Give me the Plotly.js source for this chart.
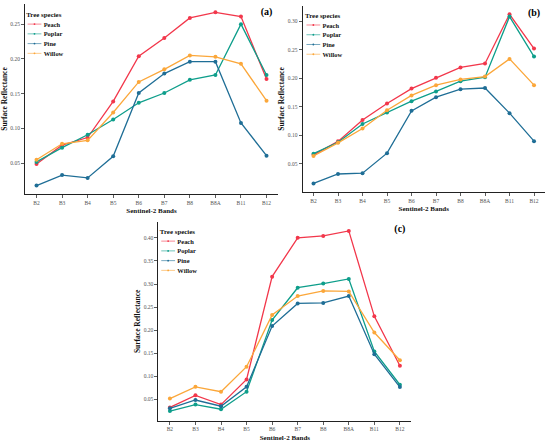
<!DOCTYPE html>
<html>
<head>
<meta charset="utf-8">
<script src="https://cdn.plot.ly/plotly-3.0.1.min.js"></script>
<style>
  html, body { margin: 0; padding: 0; background: #fff; }
  #chart { width: 550px; height: 442px; }
</style>
</head>
<body>
<div id="chart"></div>
<script>
// ---- data ----
var bands = ['B2', 'B3', 'B4', 'B5', 'B6', 'B7', 'B8', 'B8A', 'B11', 'B12'];
var species = ['Peach', 'Poplar', 'Pine', 'Willow'];
var panelLabels = ['(a)', '(b)', '(c)'];
var yTickVals = [0.05, 0.10, 0.15, 0.20, 0.25, 0.30, 0.35, 0.40];

// panel (a)
var peachA  = [0.049, 0.076, 0.087, 0.139, 0.204, 0.230, 0.259, 0.267, 0.261, 0.171];
var poplarA = [0.052, 0.0725, 0.091, 0.113, 0.137, 0.151, 0.170, 0.177, 0.250, 0.177];
var pineA   = [0.018, 0.033, 0.029, 0.060, 0.151, 0.179, 0.196, 0.196, 0.108, 0.061];
var willowA = [0.055, 0.078, 0.083, 0.123, 0.167, 0.185, 0.205, 0.203, 0.193, 0.140];

// panel (b)
var peachB  = [0.066, 0.0896, 0.127, 0.156, 0.182, 0.201, 0.219, 0.226, 0.312, 0.252];
var poplarB = [0.068, 0.088, 0.120, 0.140, 0.160, 0.177, 0.195, 0.202, 0.308, 0.238];
var pineB   = [0.016, 0.0325, 0.034, 0.069, 0.143, 0.167, 0.181, 0.183, 0.139, 0.090];
var willowB = [0.064, 0.087, 0.112, 0.144, 0.170, 0.188, 0.198, 0.203, 0.234, 0.188];

// panel (c)
var peachC  = [0.033, 0.059, 0.039, 0.0935, 0.316, 0.400, 0.404, 0.415, 0.230, 0.123];
var poplarC = [0.025, 0.039, 0.029, 0.067, 0.222, 0.292, 0.301, 0.311, 0.154, 0.082];
var pineC   = [0.031, 0.049, 0.0355, 0.0775, 0.209, 0.258, 0.259, 0.274, 0.148, 0.077];
var willowC = [0.052, 0.0775, 0.067, 0.121, 0.233, 0.274, 0.285, 0.284, 0.195, 0.135];

var panels = [
  [peachA, poplarA, pineA, willowA],
  [peachB, poplarB, pineB, willowB],
  [peachC, poplarC, pineC, willowC]
];

// ---- styling / placement ----
var colors = ['#F2374B', '#0E9E8B', '#1F6E96', '#FBA73A'];
var FONT = 'Liberation Serif, Times New Roman, serif';

var xDomains = [[0.0455, 0.5055], [0.550, 0.991], [0.288, 0.748]];
var yDomains = [[0.561, 0.991], [0.565, 0.987], [0.048, 0.498]];
var yRanges  = [[0.0058, 0.279], [0.0005, 0.327], [0.004, 0.4345]];
var legendPos = [[0.046, 0.982], [0.553, 0.980], [0.289, 0.491]];
// panel-letter placement (top-right corner of each panel, in axis units)
var labelAnchorX = 'B12';
var labelAnchorY = [0.2667, 0.3135, 0.418];

var data = [];
var layout = {
  width: 550, height: 442,
  margin: {l: 0, r: 0, t: 0, b: 0},
  paper_bgcolor: '#fff', plot_bgcolor: '#fff',
  font: {family: FONT, color: '#000'},
  showlegend: true,
  hovermode: false
};

for (var p = 0; p < 3; p++) {
  var sfx = p === 0 ? '' : String(p + 1);
  var legId = 'legend' + sfx;
  for (var s = 0; s < species.length; s++) {
    data.push({
      type: 'scatter', mode: 'lines+markers',
      x: bands, y: panels[p][s], name: species[s],
      xaxis: 'x' + sfx, yaxis: 'y' + sfx, legend: legId,
      line: {color: colors[s], width: 1.3},
      marker: {color: colors[s], size: 4}
    });
  }
  // panel letter
  data.push({
    type: 'scatter', mode: 'text',
    x: [labelAnchorX], y: [labelAnchorY[p]], text: [panelLabels[p]],
    textposition: 'middle center', cliponaxis: false,
    textfont: {family: FONT, size: 10, weight: 'bold', color: '#000'},
    xaxis: 'x' + sfx, yaxis: 'y' + sfx, showlegend: false, hoverinfo: 'skip'
  });
  layout['xaxis' + sfx] = {
    domain: xDomains[p], anchor: 'y' + sfx,
    type: 'category', range: [-0.45, 9.45],
    showline: true, linecolor: '#222', linewidth: 1,
    ticks: 'outside', ticklen: 3, tickwidth: 0.8, tickcolor: '#333',
    showgrid: false, zeroline: false,
    tickfont: {family: FONT, size: 5.5, color: '#555'},
    title: {text: 'Sentinel-2 Bands', font: {family: FONT, size: 7, weight: 'bold', color: '#111'}, standoff: 3}
  };
  layout['yaxis' + sfx] = {
    domain: yDomains[p], anchor: 'x' + sfx,
    range: yRanges[p],
    tickvals: yTickVals, tickformat: '.2f',
    showline: true, linecolor: '#222', linewidth: 1,
    ticks: 'outside', ticklen: 3, tickwidth: 0.8, tickcolor: '#333',
    showgrid: false, zeroline: false,
    tickfont: {family: FONT, size: 5.5, color: '#555'},
    title: {text: 'Surface Reflectance', font: {family: FONT, size: 7.5, weight: 'bold', color: '#111'}, standoff: 2}
  };
  layout[legId] = {
    x: legendPos[p][0], y: legendPos[p][1], xanchor: 'left', yanchor: 'top',
    bgcolor: 'rgba(0,0,0,0)', borderwidth: 0,
    font: {family: FONT, size: 14, color: '#111', weight: 'bold'},
    title: {text: 'Tree species', font: {family: FONT, size: 15, color: '#111', weight: 'bold'}},
    tracegroupgap: 0
  };
}

var gd = document.getElementById('chart');
Plotly.newPlot(gd, data, layout, {staticPlot: true, displayModeBar: false}).then(function () {
  // compact the legends to match the tight ggplot-style key spacing
  var legs = gd.querySelectorAll('.infolayer > g');
  legs.forEach(function (g) {
    var cls = g.getAttribute('class') || '';
    if (cls.indexOf('legend') === 0) {
      var t = g.getAttribute('transform') || '';
      g.setAttribute('transform', t + ' scale(0.46)');
    }
  });
});
</script>
</body>
</html>
